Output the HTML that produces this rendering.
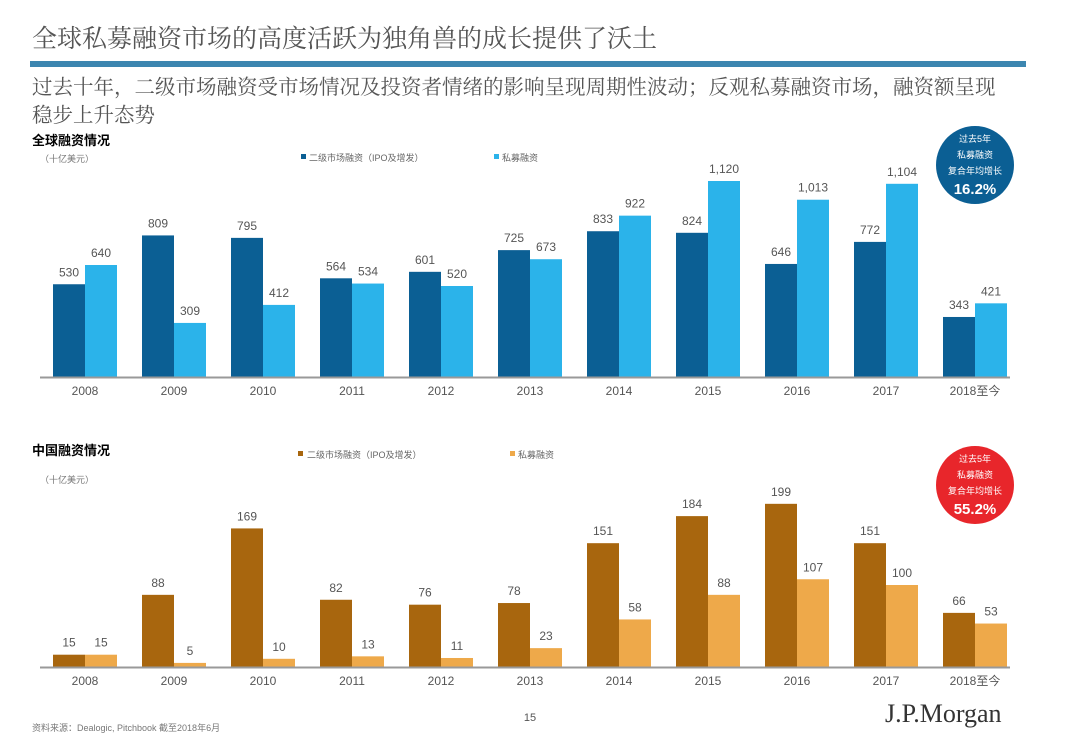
<!DOCTYPE html>
<html><head><meta charset="utf-8"><style>
body{margin:0;background:#fff;width:1080px;height:748px;overflow:hidden;font-family:"Liberation Sans","Noto Sans CJK SC",sans-serif;}
</style></head><body>
<svg id="s" width="1080" height="748" xmlns="http://www.w3.org/2000/svg" font-family="Liberation Sans, Noto Sans CJK SC, sans-serif">
<text x="32" y="47" font-size="25" fill="#555" font-family="Liberation Serif, Noto Serif CJK SC, serif">全球私募融资市场的高度活跃为独角兽的成长提供了沃土</text>
<rect x="30" y="61" width="996" height="6" fill="#3c86b0"/>
<text x="32" y="94" font-size="20.5" fill="#555" font-family="Liberation Serif, Noto Serif CJK SC, serif">过去十年，二级市场融资受市场情况及投资者情绪的影响呈现周期性波动；反观私募融资市场，融资额呈现</text>
<text x="32" y="122" font-size="20.5" fill="#555" font-family="Liberation Serif, Noto Serif CJK SC, serif">稳步上升态势</text>
<text x="32" y="145" font-size="13" font-weight="bold" fill="#000">全球融资情况</text>
<text x="40" y="162" font-size="9" fill="#777">（十亿美元）</text>
<rect x="301" y="154" width="5" height="5" fill="#0b5f94"/>
<text x="309" y="161" font-size="9" fill="#666">二级市场融资（IPO及增发）</text>
<rect x="494" y="154" width="5" height="5" fill="#2bb3ea"/>
<text x="502" y="161" font-size="9" fill="#666">私募融资</text>
<text x="32" y="455" font-size="13" font-weight="bold" fill="#000">中国融资情况</text>
<text x="40" y="483" font-size="9" fill="#777">（十亿美元）</text>
<rect x="298" y="451" width="5" height="5" fill="#a8660e"/>
<text x="307" y="458" font-size="9" fill="#666">二级市场融资（IPO及增发）</text>
<rect x="510" y="451" width="5" height="5" fill="#eea94a"/>
<text x="518" y="458" font-size="9" fill="#666">私募融资</text>
<g>
<circle cx="975" cy="165" r="39" fill="#0b5f94"/>
<text x="975" y="142" font-size="9" fill="#fff" text-anchor="middle">过去5年</text>
<text x="975" y="158" font-size="9" fill="#fff" text-anchor="middle">私募融资</text>
<text x="975" y="174" font-size="9" fill="#fff" text-anchor="middle">复合年均增长</text>
<text x="975" y="194" font-size="15" font-weight="bold" fill="#fff" text-anchor="middle">16.2%</text>
</g>
<g>
<circle cx="975" cy="485" r="39" fill="#e8262b"/>
<text x="975" y="462" font-size="9" fill="#fff" text-anchor="middle">过去5年</text>
<text x="975" y="478" font-size="9" fill="#fff" text-anchor="middle">私募融资</text>
<text x="975" y="494" font-size="9" fill="#fff" text-anchor="middle">复合年均增长</text>
<text x="975" y="514" font-size="15" font-weight="bold" fill="#fff" text-anchor="middle">55.2%</text>
</g>
<text x="530" y="721" font-size="11" fill="#555" text-anchor="middle">15</text>
<text x="32" y="731" font-size="9" fill="#777">资料来源：Dealogic, Pitchbook 截至2018年6月</text>
<text x="885" y="722" font-size="26" font-family="Liberation Serif, serif" fill="#333">J.P.Morgan</text>
<g id="g1"></g><g id="g2"></g>
</svg>
<script>
const years=["2008","2009","2010","2011","2012","2013","2014","2015","2016","2017","2018至今"];
const globalSecondary=[530,809,795,564,601,725,833,824,646,772,343];
const globalPrivate=[640,309,412,534,520,673,922,1120,1013,1104,421];
const chinaSecondary=[15,88,169,82,76,78,151,184,199,151,66];
const chinaPrivate=[15,5,10,13,11,23,58,88,107,100,53];
const NS="http://www.w3.org/2000/svg";
function mk(t,a,p){const e=document.createElementNS(NS,t);for(const k in a)e.setAttribute(k,a[k]);p.appendChild(e);return e;}
function fmt(v){return v.toLocaleString("en-US");}
function draw(gid,s1,s2,base,scale,c1,c2,yLab,prefix){
 const g=document.getElementById(gid);
 const xC=i=>85+i*89;
 const yS=v=>base-v*scale;
 s1.forEach((v,i)=>{
  const r=mk("rect",{x:xC(i)-32,y:yS(v),width:32,height:base-yS(v),fill:c1},g);
  
  
  const t=mk("text",{x:xC(i)-16,y:yS(v)-8,"font-size":12,fill:"#555","text-anchor":"middle"},g);t.textContent=fmt(v);
  
  
 });
 s2.forEach((v,i)=>{
  const r=mk("rect",{x:xC(i),y:yS(v),width:32,height:base-yS(v),fill:c2},g);
  
  
  const t=mk("text",{x:xC(i)+16,y:yS(v)-8,"font-size":12,fill:"#555","text-anchor":"middle"},g);t.textContent=fmt(v);
  
  
 });
 const ax=mk("line",{x1:40,x2:1010,y1:base+0.5,y2:base+0.5,stroke:"#999","stroke-width":2},g);
 
 
 years.forEach((y,i)=>{
  const t=mk("text",{x:xC(i),y:yLab,"font-size":12,fill:"#555","text-anchor":"middle"},g);t.textContent=y;
  
  
 });
}
draw("g1",globalSecondary,globalPrivate,377,0.175,"#0b5f94","#2bb3ea",395,"global");
draw("g2",chinaSecondary,chinaPrivate,667,0.82,"#a8660e","#eea94a",685,"china");
</script>
</body></html>
